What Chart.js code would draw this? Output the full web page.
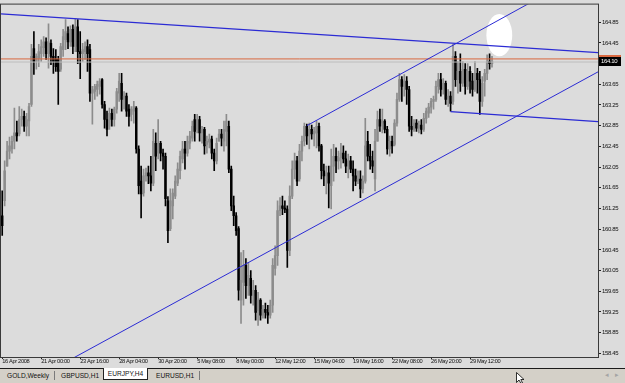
<!DOCTYPE html>
<html>
<head>
<meta charset="utf-8">
<script src="https://cdn.jsdelivr.net/npm/chart.js@4.4.0/dist/chart.umd.min.js"></script>
<style>
  html, body { margin: 0; padding: 0; width: 625px; height: 383px; overflow: hidden; background: #dcdcdc; }
  #wrap { position: relative; width: 625px; height: 368px; }
  #tabs { position: absolute; left: 0; top: 368px; width: 625px; height: 15px; background: #d4d0c8;
          border-top: 1px solid #1a1a1a; box-sizing: border-box;
          font: 6.6px 'Liberation Sans', Arial, sans-serif; color: #111; }
  #tabs span { position: absolute; top: 3px; white-space: nowrap; }
  #tabs .sep { top: 2px; width: 1px; height: 9px; background: #7a7a7a; }
  #tabs .active { top: -1px; height: 12px; width: 45px; background: #fff; border: 1px solid #222; border-top: none;
                  box-sizing: border-box; text-align: center; line-height: 12px; }
  #tabs .arr { color: #a4a4a4; font-size: 7px; top: 2px; }
  #cursor { position: absolute; left: 516px; top: 372px; }
</style>
</head>
<body>
<div id="wrap"><canvas id="chart" width="625" height="368"></canvas></div>
<div id="tabs">
  <span style="left:7px">GOLD,Weekly</span>
  <span class="sep" style="left:54px"></span>
  <span style="left:61px">GBPUSD,H1</span>
  <span class="active" style="left:103px">EURJPY,H4</span>
  <span style="left:156px">EURUSD,H1</span>
  <span class="sep" style="left:199px"></span>
  <span class="arr" style="left:605px">&#9666;</span>
  <span class="arr" style="left:615px">&#9656;</span>
</div>
<svg id="cursor" width="10" height="12"><path d="M0.5,0.5 L0.5,10.5 L3,8 L5,11.5 L6.5,11 L4.8,7.5 L8,7.5 Z" fill="#fff" stroke="#000" stroke-width="0.8"/></svg>
<script>
// EURJPY H4 candles, one entry per bar
const openP = [
  161.11, 161.40, 162.07, 162.36, 162.40, 162.55, 162.71, 162.69, 162.97, 163.03,
  162.84, 162.94, 163.26, 164.34, 164.09, 164.15, 164.24, 164.36, 164.47, 164.24,
  164.44, 164.19, 164.13, 164.13, 163.94, 164.32, 164.51, 164.63, 164.47, 164.71,
  164.38, 164.76, 164.28, 164.24, 164.28, 164.38, 164.32, 163.48, 163.51, 163.55,
  163.61, 163.74, 163.26, 162.97, 162.84, 163.09, 162.97, 163.17, 163.48, 163.67,
  163.36, 163.42, 163.17, 163.07, 163.13, 163.19, 162.40, 161.78, 161.55, 161.88,
  161.94, 161.88, 161.74, 162.51, 162.32, 162.51, 162.32, 162.26, 161.40, 160.86,
  161.30, 161.49, 161.74, 161.98, 162.21, 162.40, 162.32, 162.51, 162.61, 162.97,
  162.78, 162.97, 162.71, 162.78, 162.49, 162.53, 162.59, 162.32, 162.17, 162.55,
  162.69, 162.55, 162.74, 162.84, 162.01, 161.30, 161.11, 160.86, 159.48, 159.82,
  160.15, 159.76, 159.90, 159.57, 159.67, 159.28, 159.48, 159.19, 159.30, 159.24,
  159.19, 159.38, 160.09, 160.34, 161.21, 161.30, 161.26, 161.24, 160.44, 161.49,
  162.01, 162.17, 161.82, 162.36, 162.55, 162.84, 162.65, 162.78, 162.69, 162.71,
  162.84, 162.46, 161.98, 161.88, 161.94, 161.69, 162.07, 162.26, 162.17, 162.23,
  162.32, 162.21, 162.07, 162.17, 162.01, 161.88, 161.78, 161.82, 161.63, 161.78,
  162.55, 162.26, 162.17, 161.82, 162.55, 162.97, 162.90, 162.94, 162.78, 162.40,
  162.55, 162.49, 162.90, 163.36, 163.74, 163.61, 163.71, 163.55, 162.84, 162.78,
  162.90, 162.80, 162.86, 162.78, 162.99, 163.09, 163.21, 163.32, 163.36, 163.61,
  163.74, 163.55, 163.67, 163.36, 163.42, 163.32, 164.19, 163.74, 163.90, 163.67,
  163.94, 163.61, 163.90, 163.71, 163.55, 163.86, 163.74, 163.32, 163.71, 163.86,
  164.09, 164.05
];
const highP = [
  161.59, 162.17, 162.55, 162.63, 162.65, 163.19, 162.94, 163.22, 163.17, 163.13,
  163.09, 163.28, 164.42, 164.67, 164.24, 164.42, 164.51, 164.57, 164.55, 164.82,
  164.51, 164.34, 164.32, 164.19, 164.44, 164.71, 164.90, 164.76, 164.78, 164.80,
  164.92, 164.90, 164.67, 164.44, 164.47, 164.51, 164.42, 163.61, 163.65, 163.71,
  163.76, 163.76, 163.32, 163.13, 163.19, 163.17, 163.21, 163.57, 163.86, 163.86,
  163.51, 163.48, 163.26, 163.22, 163.32, 163.22, 162.46, 162.07, 162.01, 162.03,
  162.07, 162.26, 162.78, 162.71, 162.97, 162.55, 162.40, 162.32, 161.48, 161.63,
  161.63, 161.88, 162.13, 162.36, 162.55, 162.55, 162.65, 162.74, 162.94, 163.07,
  163.07, 163.03, 162.84, 162.82, 162.65, 162.69, 162.65, 162.40, 162.61, 162.78,
  162.78, 162.94, 163.07, 162.94, 162.07, 161.49, 161.17, 160.90, 160.40, 160.44,
  160.28, 160.21, 160.05, 159.86, 159.76, 159.63, 159.51, 159.38, 159.42, 159.38,
  159.48, 160.28, 160.53, 161.40, 161.46, 161.49, 161.40, 161.30, 161.69, 162.17,
  162.32, 162.26, 162.49, 162.65, 162.90, 162.88, 162.90, 162.86, 162.82, 162.94,
  162.90, 162.49, 162.11, 162.07, 162.07, 162.40, 162.49, 162.42, 162.36, 162.51,
  162.46, 162.36, 162.30, 162.26, 162.17, 162.01, 161.98, 161.98, 161.88, 162.99,
  162.74, 162.49, 162.36, 162.78, 163.13, 163.17, 163.17, 162.97, 162.84, 162.65,
  162.65, 162.97, 163.48, 163.86, 163.80, 163.84, 163.80, 163.61, 163.03, 162.97,
  162.97, 162.94, 162.97, 163.09, 163.19, 163.28, 163.38, 163.42, 163.71, 163.86,
  163.86, 163.76, 163.71, 163.55, 163.51, 164.42, 164.28, 164.09, 164.24, 164.09,
  164.05, 164.05, 163.99, 163.86, 164.09, 163.96, 163.90, 163.80, 163.94, 164.22,
  164.24, 164.19
];
const lowP = [
  160.73, 161.30, 162.07, 162.21, 162.32, 162.40, 162.55, 162.65, 162.84, 162.74,
  162.65, 162.65, 163.22, 163.84, 163.94, 163.99, 164.09, 164.19, 164.13, 163.96,
  164.03, 163.86, 163.90, 163.26, 163.90, 164.19, 164.32, 164.34, 164.38, 164.24,
  164.28, 164.05, 163.76, 164.09, 164.13, 163.90, 163.32, 162.88, 163.36, 163.42,
  163.46, 163.19, 162.80, 162.65, 162.78, 162.84, 162.84, 163.09, 163.32, 163.13,
  163.17, 163.03, 162.84, 162.94, 162.90, 162.32, 161.53, 161.07, 161.49, 161.78,
  161.73, 161.59, 161.69, 161.98, 162.21, 162.17, 162.01, 161.30, 160.59, 160.82,
  161.05, 161.44, 161.69, 161.82, 162.13, 162.01, 162.26, 162.40, 162.55, 162.55,
  162.71, 162.55, 162.51, 162.30, 162.32, 162.42, 162.21, 161.98, 162.11, 162.55,
  162.46, 162.36, 162.46, 161.94, 161.21, 160.92, 160.73, 159.48, 159.03, 159.38,
  159.51, 159.57, 159.42, 159.38, 159.09, 158.99, 159.09, 159.13, 159.13, 159.03,
  159.13, 159.24, 159.96, 160.15, 161.11, 161.13, 161.17, 160.11, 160.34, 161.44,
  161.82, 161.69, 161.78, 162.17, 162.46, 162.49, 162.40, 162.59, 162.46, 162.42,
  162.36, 161.82, 161.69, 161.53, 161.26, 161.24, 161.78, 161.94, 162.01, 162.03,
  162.13, 161.94, 161.84, 161.94, 161.59, 161.69, 161.73, 161.46, 161.55, 161.74,
  162.17, 162.01, 161.94, 161.59, 162.55, 162.74, 162.71, 162.71, 162.30, 162.26,
  162.32, 162.46, 162.84, 163.32, 163.32, 163.42, 163.26, 162.74, 162.65, 162.74,
  162.74, 162.71, 162.69, 162.74, 162.90, 163.01, 163.09, 163.17, 163.32, 163.48,
  163.42, 163.46, 163.26, 163.22, 163.13, 163.26, 163.61, 163.48, 163.51, 163.61,
  163.46, 163.55, 163.48, 163.42, 163.51, 163.48, 163.07, 163.22, 163.42, 163.74,
  163.94, 163.98
];
const closeP = [
  160.92, 161.98, 162.36, 162.46, 162.55, 162.71, 162.65, 162.97, 163.03, 162.84,
  162.97, 163.22, 164.19, 164.09, 164.19, 164.28, 164.38, 164.47, 164.24, 164.47,
  164.19, 164.09, 163.99, 163.90, 164.38, 164.57, 164.67, 164.47, 164.71, 164.38,
  164.76, 164.28, 164.24, 164.32, 164.38, 164.24, 163.48, 163.55, 163.61, 163.65,
  163.71, 163.26, 162.97, 162.78, 163.09, 162.97, 163.17, 163.51, 163.71, 163.36,
  163.42, 163.13, 163.03, 163.17, 163.22, 162.40, 161.69, 161.53, 161.88, 161.94,
  161.88, 161.74, 162.55, 162.26, 162.51, 162.32, 162.26, 161.44, 160.82, 161.40,
  161.55, 161.78, 162.01, 162.26, 162.40, 162.32, 162.55, 162.65, 162.84, 162.74,
  162.97, 162.71, 162.78, 162.46, 162.55, 162.59, 162.32, 162.17, 162.51, 162.69,
  162.61, 162.78, 162.94, 162.01, 161.30, 161.11, 160.82, 159.67, 159.86, 160.15,
  159.76, 159.96, 159.57, 159.67, 159.24, 159.48, 159.19, 159.30, 159.24, 159.19,
  159.38, 160.15, 160.34, 161.21, 161.30, 161.25, 161.23, 160.44, 161.49, 162.01,
  162.17, 161.78, 162.36, 162.55, 162.84, 162.65, 162.78, 162.69, 162.74, 162.84,
  162.46, 161.98, 161.88, 161.94, 161.74, 162.07, 162.26, 162.17, 162.23, 162.32,
  162.21, 162.07, 162.17, 162.01, 161.88, 161.78, 161.82, 161.63, 161.78, 162.46,
  162.26, 162.17, 162.07, 162.55, 162.97, 162.84, 162.94, 162.78, 162.40, 162.55,
  162.46, 162.90, 163.36, 163.74, 163.61, 163.71, 163.55, 162.84, 162.78, 162.90,
  162.80, 162.86, 162.78, 162.99, 163.13, 163.21, 163.32, 163.36, 163.61, 163.74,
  163.55, 163.67, 163.36, 163.42, 163.28, 164.19, 163.74, 163.90, 163.67, 163.94,
  163.61, 163.90, 163.71, 163.55, 163.86, 163.74, 163.32, 163.67, 163.86, 164.09,
  164.05, 164.10
];

// time axis labels and the bars they sit on
const timeLabels = ['16 Apr 2008', '21 Apr 00:00', '23 Apr 16:00', '28 Apr 04:00', '30 Apr 20:00',
  '5 May 08:00', '8 May 00:00', '12 May 12:00', '15 May 04:00', '19 May 16:00',
  '22 May 08:00', '26 May 20:00', '29 May 12:00'];
const timeLabelBars = [0, 16, 32, 48, 64, 80, 96, 112, 128, 144, 160, 176, 192];

// price axis labels
const priceTicks = [158.45, 158.85, 159.25, 159.65, 160.05, 160.45, 160.85, 161.25, 161.65,
  162.05, 162.45, 162.85, 163.25, 163.65, 164.05, 164.45, 164.85];

// trend lines drawn on the chart: [bar, price] end points
const resistLine = [[-0.5, 165.01], [244.5, 164.26]];
const channelTop = [[125, 162.85], [220.7, 165.33]];
const channelBottom = [[28, 158.33], [244.5, 163.89]];
const triangleBase = [[184, 163.12], [244.5, 162.93]];
const orangeLevel = 164.14;
const askLevel = 164.08;
const bidPrice = 164.10;

// white marker on the chart (centre bar/price, half sizes in bars/price)
const marker = { bar: 204, price: 164.60, halfBars: 5.3, halfPrice: 0.41 };

const upColor = '#8c8c8c';
const downColor = '#000000';
const lineBlue = '#2b2bd4';
const axisFont = "'Liberation Sans', Arial, sans-serif";
const isUp = i => closeP[i] >= openP[i];
const candleColor = ctx => isUp(ctx.dataIndex) ? upColor : downColor;

const toPoints = seg => seg.map(p => ({ x: p[0], y: p[1] }));
const lineSet = (seg, color, width) => ({
  type: 'line', data: toPoints(seg), borderColor: color, borderWidth: width,
  pointRadius: 0, fill: false, order: 0
});

Chart.defaults.font.family = axisFont;
Chart.defaults.font.size = 6;
Chart.defaults.color = '#111';

// tighter letters, like the small terminal font
const tightText = chart => { chart.ctx.letterSpacing = '-0.35px'; };

const chartDecor = {
  id: 'chartDecor',
  beforeLayout: tightText,
  beforeDraw: tightText,
  beforeDatasetsDraw(chart) {
    const { ctx, scales: { x, y } } = chart;
    const cx = x.getPixelForValue(marker.bar);
    const cy = y.getPixelForValue(marker.price);
    const rx = Math.abs(x.getPixelForValue(marker.bar + marker.halfBars) - cx);
    const ry = Math.abs(y.getPixelForValue(marker.price + marker.halfPrice) - cy);
    ctx.save();
    ctx.fillStyle = '#ffffff';
    ctx.beginPath();
    ctx.ellipse(cx, cy, rx, ry, 0, 0, Math.PI * 2);
    ctx.fill();
    ctx.restore();
  },
  afterDraw(chart) {
    const { ctx, chartArea: a, scales: { y } } = chart;
    ctx.save();
    ctx.strokeStyle = '#3a3a3a';
    ctx.lineWidth = 1;
    ctx.strokeRect(a.left - 0.5, a.top - 0.5, a.right - a.left + 1, a.bottom - a.top + 1);
    // current price box on the price axis
    const py = Math.round(y.getPixelForValue(bidPrice));
    ctx.fillStyle = '#d9683f';
    ctx.fillRect(a.right + 1, py - 6, 22, 2);
    ctx.fillStyle = '#000';
    ctx.fillRect(a.right + 1, py - 4, 22, 9);
    ctx.fillStyle = '#fff';
    ctx.font = '6px ' + axisFont;
    ctx.textBaseline = 'middle';
    ctx.fillText(bidPrice.toFixed(2), a.right + 3, py + 0.5);
    ctx.restore();
  }
};

new Chart(document.getElementById('chart'), {
  type: 'bar',
  data: {
    datasets: [
      lineSet(resistLine, lineBlue, 1.2),
      lineSet(channelTop, lineBlue, 1),
      lineSet(channelBottom, lineBlue, 1),
      lineSet(triangleBase, lineBlue, 1.2),
      lineSet([[-0.5, orangeLevel], [244.5, orangeLevel]], '#d9683f', 1),
      lineSet([[-0.5, askLevel], [244.5, askLevel]], '#bdbdbd', 1),
      {
        type: 'bar',
        data: highP.map((h, i) => ({ x: i, y: [lowP[i], h] })),
        backgroundColor: candleColor, barThickness: 1, grouped: false, order: 2
      },
      {
        type: 'bar',
        data: openP.map((o, i) => ({ x: i, y: [o, closeP[i]] })),
        backgroundColor: candleColor, barThickness: 1.8, minBarLength: 1, grouped: false, order: 1
      }
    ]
  },
  options: {
    responsive: false,
    animation: false,
    devicePixelRatio: 1,
    layout: { padding: { left: 1, top: 3, right: 0, bottom: 0 } },
    plugins: { legend: { display: false }, tooltip: { enabled: false } },
    scales: {
      x: {
        type: 'linear', position: 'bottom', min: -0.5, max: 244.5, offset: false,
        afterBuildTicks: s => { s.ticks = timeLabelBars.map(v => ({ value: v })); },
        afterFit: s => { s.height = 11; },
        ticks: {
          autoSkip: false, maxRotation: 0, align: 'start', padding: 0,
          font: { size: 5.7, lineHeight: 1 }, color: '#111',
          callback: v => { const k = timeLabelBars.indexOf(v); return k >= 0 ? timeLabels[k] : ''; }
        },
        grid: { drawOnChartArea: false, offset: false, tickLength: 2, color: '#222' },
        border: { display: false }
      },
      y: {
        type: 'linear', position: 'right', min: 158.38, max: 165.19,
        afterBuildTicks: s => { s.ticks = priceTicks.map(v => ({ value: v })); },
        afterFit: s => { s.width = 27; },
        ticks: { padding: 1, color: '#111', callback: v => v.toFixed(2) },
        grid: { drawOnChartArea: false, tickLength: 3, color: '#222' },
        border: { display: false }
      }
    }
  },
  plugins: [chartDecor]
});
</script>
</body>
</html>
